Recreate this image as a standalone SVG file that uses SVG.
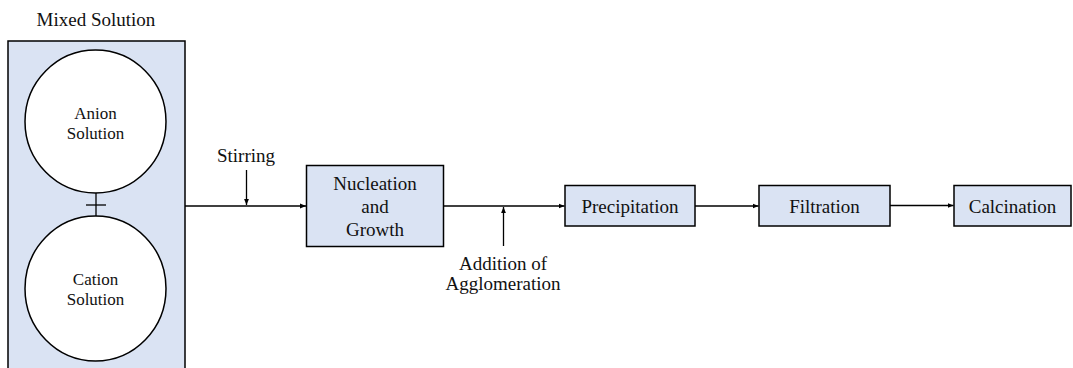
<svg xmlns="http://www.w3.org/2000/svg" width="1073" height="368" viewBox="0 0 1073 368">
<defs>
<style>
.box{fill:#DAE3F3;stroke:#000;stroke-width:1.5}
.circ{fill:#fff;stroke:#000;stroke-width:1.5}
.ln{stroke:#000;stroke-width:1.3;fill:none}
.t{font-family:'Liberation Serif','DejaVu Serif',serif;font-size:19px;fill:#111;text-anchor:middle}
.sm{font-size:17px}
</style>
<marker id="ah" viewBox="0 0 10 10" refX="10" refY="5" markerWidth="6" markerHeight="6" markerUnits="userSpaceOnUse" orient="auto">
<path d="M0,1 L10,5 L0,9 z" fill="#000"/>
</marker>
</defs>
<rect width="1073" height="368" fill="#fff"/>
<g id="mixed">
<text class="t" x="96" y="26">Mixed Solution</text>
<rect class="box" x="8" y="41" width="177" height="340"/>
</g>
<g id="anion">
<ellipse class="circ" cx="95.5" cy="121.5" rx="70.5" ry="71.5"/>
<text class="t sm" x="95.5" y="119">Anion</text>
<text class="t sm" x="95.5" y="139">Solution</text>
</g>
<g id="plus">
<line class="ln" x1="86" y1="205" x2="106" y2="205"/>
<line class="ln" x1="96" y1="193" x2="96" y2="216"/>
</g>
<g id="cation">
<ellipse class="circ" cx="95.5" cy="288.5" rx="70.5" ry="72.5"/>
<text class="t sm" x="95.5" y="285">Cation</text>
<text class="t sm" x="95.5" y="305">Solution</text>
</g>
<g id="nucleation">
<rect class="box" x="306.5" y="165.5" width="137" height="81"/>
<text class="t" x="375" y="190">Nucleation</text>
<text class="t" x="375" y="213">and</text>
<text class="t" x="375" y="236">Growth</text>
</g>
<g id="precipitation">
<rect class="box" x="565" y="185.5" width="130" height="40.5"/>
<text class="t" x="630" y="213">Precipitation</text>
</g>
<g id="filtration">
<rect class="box" x="759" y="185.5" width="131" height="40.5"/>
<text class="t" x="824.5" y="213">Filtration</text>
</g>
<g id="calcination">
<rect class="box" x="954" y="185.5" width="117" height="40.5"/>
<text class="t" x="1012.5" y="213">Calcination</text>
</g>
<g id="labels">
<text class="t" x="246" y="162">Stirring</text>
<text class="t" x="503" y="270">Addition of</text>
<text class="t" x="503" y="290">Agglomeration</text>
</g>
<g id="connectors">
<line class="ln" x1="185" y1="206" x2="306" y2="206" marker-end="url(#ah)"/>
<line class="ln" x1="246.5" y1="170" x2="246.5" y2="205" marker-end="url(#ah)"/>
<line class="ln" x1="443.5" y1="206" x2="564.5" y2="206" marker-end="url(#ah)"/>
<line class="ln" x1="503.5" y1="246" x2="503.5" y2="207" marker-end="url(#ah)"/>
<line class="ln" x1="695" y1="206" x2="758.5" y2="206" marker-end="url(#ah)"/>
<line class="ln" x1="890" y1="205.5" x2="953.5" y2="205.5" marker-end="url(#ah)"/>
</g>
</svg>
